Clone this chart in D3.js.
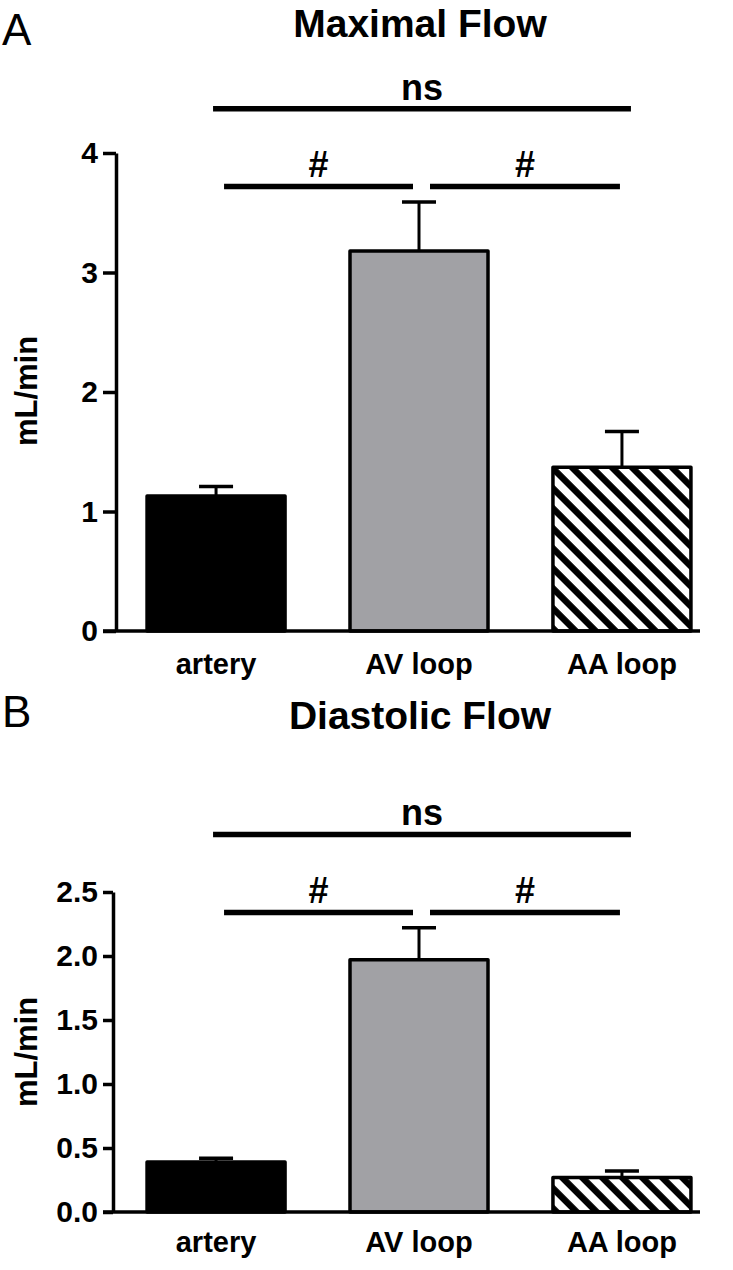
<!DOCTYPE html>
<html><head><meta charset="utf-8">
<script src="https://cdn.jsdelivr.net/npm/d3@7/dist/d3.min.js"></script>
<style>
html,body{margin:0;padding:0;background:#fff;}
svg{display:block;font-family:"Liberation Sans",Arial,sans-serif;}
</style></head>
<body><svg id="chart" width="733" height="1270"></svg>
<script>
const categories = ["artery", "AV loop", "AA loop"];
const maxMean = [1.13, 3.18, 1.37];
const maxSem  = [0.08, 0.41, 0.30];
const diaMean = [0.39, 1.97, 0.27];
const diaSem  = [0.03, 0.25, 0.05];
const maxTicks = [0, 1, 2, 3, 4];
const diaTicks = [0, 0.5, 1.0, 1.5, 2.0, 2.5];
// comparisons: [from index, to index, label, level in data units]
const maxComparisons = [[0, 2, "ns", 4.37], [0, 1, "#", 3.72], [1, 2, "#", 3.72]];
const diaComparisons = [[0, 2, "ns", 2.95], [0, 1, "#", 2.34], [1, 2, "#", 2.34]];
const fills = ["#000000", "#a1a1a5", "url(#hatch)"];

const svg = d3.select("#chart");
const defs = svg.append("defs");
const pat = defs.append("pattern").attr("id", "hatch")
  .attr("patternUnits", "userSpaceOnUse").attr("width", 14.14).attr("height", 14.14)
  .attr("patternTransform", "rotate(-45)");
pat.append("rect").attr("width", 14.14).attr("height", 14.14).attr("fill", "#fff");
pat.append("rect").attr("x", 0).attr("width", 6.5).attr("height", 14.14).attr("fill", "#000");

function panel(opt) {
  const g = svg.append("g");
  const x = d3.scaleBand().domain(categories).range([116, 722]).paddingInner(0.32).paddingOuter(0.153);
  const y = d3.scaleLinear().domain(opt.domain).range([opt.y0, opt.y1]);

  // panel letter and title
  g.append("text").attr("x", 2).attr("y", opt.letterY).attr("font-size", 44).text(opt.letter);
  g.append("text").attr("x", 420).attr("y", opt.titleY).attr("text-anchor", "middle")
    .attr("font-size", 39).attr("font-weight", "bold").text(opt.title);

  // bars
  const data = categories.map((c, i) => ({c, m: opt.mean[i], s: opt.sem[i], f: fills[i]}));
  // error bars
  g.selectAll(".err").data(data).enter().append("g").each(function(d) {
    const cx = x(d.c) + x.bandwidth() / 2;
    const s = d3.select(this);
    s.append("line").attr("x1", cx).attr("x2", cx).attr("y1", y(d.m)).attr("y2", y(d.m + d.s))
      .attr("stroke", "#000").attr("stroke-width", 3);
    s.append("line").attr("x1", cx - 17).attr("x2", cx + 17).attr("y1", y(d.m + d.s)).attr("y2", y(d.m + d.s))
      .attr("stroke", "#000").attr("stroke-width", 3.5);
  });
  g.selectAll(".bar").data(data).enter().append("rect")
    .attr("x", d => x(d.c)).attr("width", x.bandwidth())
    .attr("y", d => y(d.m)).attr("height", d => y(0) - y(d.m))
    .attr("fill", d => d.f).attr("stroke", "#000").attr("stroke-width", 3.5)
    .attr("stroke-linejoin", "round");

  // y axis
  const ax = g.append("g").attr("transform", `translate(${opt.axisX},0)`)
    .call(d3.axisLeft(y).tickValues(opt.ticks).tickSize(opt.axisX - 103).tickPadding(5)
      .tickFormat(opt.fmt).tickSizeOuter(0));
  ax.select(".domain").attr("stroke-width", 3.5);
  ax.selectAll(".tick line").attr("stroke-width", 3.5);
  ax.selectAll(".tick text").attr("font-size", 30).attr("font-weight", "bold")
    .attr("font-family", "'Liberation Sans',Arial,sans-serif").attr("fill", "#000");
  // x axis baseline
  g.append("line").attr("x1", 103).attr("x2", 700).attr("y1", y(0)).attr("y2", y(0))
    .attr("stroke", "#000").attr("stroke-width", 3.5);

  // category labels
  g.selectAll(".cat").data(categories).enter().append("text")
    .attr("x", d => x(d) + x.bandwidth() / 2).attr("y", opt.catY).attr("text-anchor", "middle")
    .attr("font-size", 29).attr("font-weight", "bold").text(d => d);

  // y label
  g.append("text").attr("transform", `translate(37,${opt.labelY}) rotate(-90)`)
    .attr("text-anchor", "middle").attr("font-size", 31).attr("font-weight", "bold").text("mL/min");

  // significance brackets
  opt.comps.forEach(([a, b, lab, lv]) => {
    const ca = x(categories[a]) + x.bandwidth() / 2, cb = x(categories[b]) + x.bandwidth() / 2;
    let x1, x2;
    if (lab === "ns") { x1 = ca - 3; x2 = cb + 9; }
    else if (a === 0) { x1 = ca + 8; x2 = cb - 6; }
    else { x1 = ca + 11; x2 = cb - 2; }
    const yy = y(lv);
    g.append("line").attr("x1", x1).attr("x2", x2).attr("y1", yy).attr("y2", yy)
      .attr("stroke", "#000").attr("stroke-width", 5.5);
    g.append("text").attr("x", (x1 + x2) / 2).attr("y", yy - 9).attr("text-anchor", "middle")
      .attr("font-size", 36).attr("font-weight", "bold").text(lab);
  });
}

panel({letter: "A", letterY: 45, title: "Maximal Flow", titleY: 37,
  domain: [0, 4], y0: 631, y1: 153, axisX: 116, ticks: maxTicks, fmt: d3.format("d"),
  mean: maxMean, sem: maxSem, catY: 674, labelY: 391, comps: maxComparisons});
panel({letter: "B", letterY: 727, title: "Diastolic Flow", titleY: 729,
  domain: [0, 2.5], y0: 1212, y1: 892, axisX: 113, ticks: diaTicks, fmt: d3.format(".1f"),
  mean: diaMean, sem: diaSem, catY: 1252, labelY: 1052, comps: diaComparisons});
</script></body></html>
